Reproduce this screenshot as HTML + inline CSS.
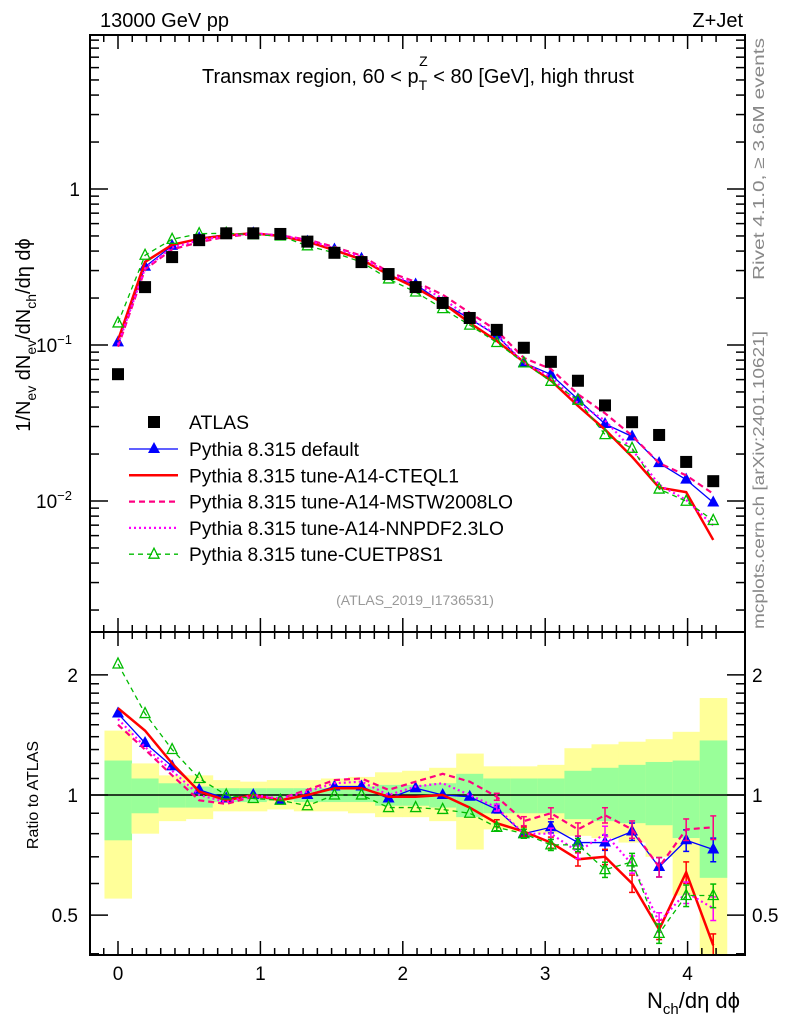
<!DOCTYPE html>
<html><head><meta charset="utf-8"><style>
body{margin:0;background:#fff;}
svg{display:block;font-family:"Liberation Sans",sans-serif;}
</style></head><body>
<svg id="c" width="786" height="1024" viewBox="0 0 786 1024" xmlns="http://www.w3.org/2000/svg"></svg>
<script>
const xs=[0,0.19,0.38,0.57,0.76,0.95,1.14,1.33,1.52,1.71,1.9,2.09,2.28,2.47,2.66,2.85,3.04,3.23,3.42,3.61,3.8,3.99,4.18];
const atlas=[0.065,0.235,0.366,0.47,0.52,0.52,0.515,0.46,0.39,0.34,0.285,0.235,0.186,0.149,0.125,0.096,0.078,0.059,0.041,0.032,0.0265,0.0178,0.0134];
const rDefault=[1.6,1.35,1.18,1.03,0.98,1.0,0.97,1.0,1.05,1.05,0.98,1.04,1.0,0.99,0.92,0.8,0.83,0.76,0.76,0.81,0.66,0.77,0.73];
const rCTEQ=[1.65,1.45,1.2,1.02,0.97,1.0,0.97,1.0,1.04,1.04,0.99,0.99,1.0,0.93,0.85,0.81,0.76,0.69,0.7,0.6,0.46,0.64,0.42];
const rMSTW=[1.5,1.3,1.12,0.97,0.95,0.99,0.98,1.03,1.09,1.1,1.03,1.08,1.13,1.08,0.99,0.86,0.9,0.82,0.89,0.82,0.66,0.82,0.83];
const rNNPDF=[1.55,1.32,1.15,1.0,0.96,1.0,0.98,1.02,1.07,1.08,1.0,1.05,1.07,1.0,0.93,0.8,0.8,0.72,0.8,0.67,0.48,0.57,0.52];
const rCUET=[2.13,1.6,1.3,1.1,1.0,0.98,0.97,0.94,1.0,1.0,0.93,0.93,0.92,0.9,0.83,0.8,0.75,0.75,0.65,0.68,0.45,0.56,0.56];
const yelLo=[0.55,0.8,0.86,0.87,0.91,0.91,0.92,0.91,0.91,0.9,0.88,0.88,0.86,0.73,0.82,0.81,0.8,0.79,0.78,0.76,0.7,0.56,0.38];
const yelHi=[1.45,1.2,1.12,1.12,1.09,1.08,1.09,1.09,1.1,1.11,1.14,1.15,1.17,1.27,1.18,1.18,1.19,1.31,1.34,1.36,1.38,1.44,1.75];
const grnLo=[0.77,0.9,0.93,0.93,0.96,0.96,0.97,0.96,0.96,0.96,0.94,0.94,0.93,0.88,0.9,0.9,0.9,0.87,0.86,0.85,0.84,0.78,0.62];
const grnHi=[1.22,1.1,1.07,1.05,1.04,1.04,1.04,1.04,1.04,1.05,1.06,1.06,1.07,1.13,1.1,1.1,1.1,1.15,1.17,1.19,1.21,1.22,1.37];
const S='http://www.w3.org/2000/svg',svg=document.getElementById('c');
const X=v=>118+v*142.4;
const Y=v=>189-Math.log10(v)*156;
const R=v=>795-Math.log10(v)*399;
function el(t,a,p){const e=document.createElementNS(S,t);for(const k in a)e.setAttribute(k,a[k]);(p||svg).appendChild(e);return e;}
function txt(x,y,s,a,p){const e=el('text',Object.assign({x:x,y:y,'font-size':18,fill:'#000'},a||{}),p);e.textContent=s;return e;}
function tsp(parent,s,a){const t=el('tspan',a||{},parent);t.textContent=s;return t;}
const L=90,Rt=745,T1=35,B1=632,T2=632,B2=955;
const defs=el('defs',{});
const c1=el('clipPath',{id:'c1'},defs);el('rect',{x:L,y:T1,width:Rt-L,height:B1-T1},c1);
const c2=el('clipPath',{id:'c2'},defs);el('rect',{x:L,y:T2,width:Rt-L,height:B2-T2},c2);
const g1=el('g',{'clip-path':'url(#c1)'});
const g2=el('g',{'clip-path':'url(#c2)'});
xs.forEach((x,i)=>{
 const b=el('rect',{x:X(x-0.095),width:0.19*142.4+0.5,y:R(yelHi[i]),height:R(yelLo[i])-R(yelHi[i]),fill:'#ffff99'},g2);
 
 const g=el('rect',{x:X(x-0.095),width:0.19*142.4+0.5,y:R(grnHi[i]),height:R(grnLo[i])-R(grnHi[i]),fill:'#99ff99'},g2);
 
});
el('line',{x1:L,x2:Rt,y1:R(1),y2:R(1),stroke:'#000','stroke-width':1.5},g2);
const series=[
 {n:'default',r:rDefault,c:'#0000ff',w:1.3,d:'',m:'tri'},
 {n:'cteql1',r:rCTEQ,c:'#ff0000',w:2.5,d:'',m:''},
 {n:'mstw',r:rMSTW,c:'#ff0080',w:2.2,d:'6,4',m:''},
 {n:'nnpdf',r:rNNPDF,c:'#ff00ff',w:2.2,d:'2,3',m:''},
 {n:'cuetp8s1',r:rCUET,c:'#00bb00',w:1.3,d:'5,4',m:'otri'}];
function marker(g,m,x,y,c){
 if(m==='tri'){const p=el('polygon',{points:`${x},${y-7} ${x-6},${y+4} ${x+6},${y+4}`,fill:c},g);}
 if(m==='otri'){const p=el('polygon',{points:`${x},${y-6} ${x-5},${y+4} ${x+5},${y+4}`,fill:'none',stroke:c,'stroke-width':1.3},g);}
}
series.forEach(s=>{
 const top=xs.map((x,i)=>X(x)+','+Y(s.r[i]*atlas[i])).join(' ');
 const p1=el('polyline',{points:top,fill:'none',stroke:s.c,'stroke-width':s.w,'stroke-dasharray':s.d},g1);
 
 const bot=xs.map((x,i)=>X(x)+','+R(s.r[i])).join(' ');
 const p2=el('polyline',{points:bot,fill:'none',stroke:s.c,'stroke-width':s.w,'stroke-dasharray':s.d},g2);
 
 xs.forEach((x,i)=>{
  if(i>=14){const e=0.02+0.006*(i-14);const yh=R(s.r[i]*(1+e)),yl=R(s.r[i]*(1-e));
   el('line',{x1:X(x),x2:X(x),y1:yh,y2:yl,stroke:s.c,'stroke-width':1.5},g2);
   el('line',{x1:X(x)-3,x2:X(x)+3,y1:yh,y2:yh,stroke:s.c,'stroke-width':1.5},g2);
   el('line',{x1:X(x)-3,x2:X(x)+3,y1:yl,y2:yl,stroke:s.c,'stroke-width':1.5},g2);}
  marker(g1,s.m,X(x),Y(s.r[i]*atlas[i]),s.c);marker(g2,s.m,X(x),R(s.r[i]),s.c);
 });
});
atlas.forEach((v,i)=>{const r=el('rect',{x:X(xs[i])-6,y:Y(v)-6,width:12,height:12,fill:'#000'},g1);
 });
[[T1,B1],[T2,B2]].forEach(([t,b])=>el('rect',{x:L,y:t,width:Rt-L,height:b-t,fill:'none',stroke:'#000','stroke-width':2}));
for(let v=-0.1;v<=4.3;v+=0.1){const vv=Math.round(v*10)/10;const maj=Math.abs(vv-Math.round(vv))<1e-6;const len=maj?14:7;
 [[T1,B1],[T2,B2]].forEach(([t,b])=>{el('line',{x1:X(vv),x2:X(vv),y1:b,y2:b-len,stroke:'#000','stroke-width':1.5});el('line',{x1:X(vv),x2:X(vv),y1:t,y2:t+len,stroke:'#000','stroke-width':1.5});});}
const xt=['0','1','2','3','4'];
xt.forEach((s,i)=>txt(X(i),980,s,{'text-anchor':'middle','font-size':19}));
for(let d=-3;d<=1;d++)for(let k=1;k<=9;k++){const v=k*Math.pow(10,d);const y=Y(v);if(y<T1||y>B1)continue;const len=k===1?18:9;
 el('line',{x1:L,x2:L+len,y1:y,y2:y,stroke:'#000','stroke-width':1.5});el('line',{x1:Rt,x2:Rt-len,y1:y,y2:y,stroke:'#000','stroke-width':1.5});}
txt(80,196,'1',{'text-anchor':'end','font-size':19});
const t1=txt(36,352,'10',{'font-size':19});tsp(t1,'−1',{dy:-8,'font-size':13});
const t2=txt(36,508,'10',{'font-size':19});tsp(t2,'−2',{dy:-8,'font-size':13});
[0.4,0.5,0.6,0.7,0.8,0.9,1,2].forEach(v=>{const y=R(v);const len=(v===0.5||v===1||v===2)?18:9;
 el('line',{x1:L,x2:L+len,y1:y,y2:y,stroke:'#000','stroke-width':1.5});el('line',{x1:Rt,x2:Rt-len,y1:y,y2:y,stroke:'#000','stroke-width':1.5});});
for(let v=1.1;v<2;v+=0.1){const y=R(v);el('line',{x1:L,x2:L+9,y1:y,y2:y,stroke:'#000','stroke-width':1.5});el('line',{x1:Rt,x2:Rt-9,y1:y,y2:y,stroke:'#000','stroke-width':1.5});}
[['2',2],['1',1],['0.5',0.5]].forEach(([s,v])=>{txt(78,R(v)+7,s,{'text-anchor':'end','font-size':19});txt(752,R(v)+7,s,{'font-size':19});});
txt(100,27,'13000 GeV pp',{'font-size':20});
txt(743,27,'Z+Jet',{'text-anchor':'end','font-size':20});
const tt=txt(418,83,'Transmax region, 60 < p',{'text-anchor':'middle','font-size':20});
tsp(tt,'T',{dy:7,'font-size':14});
tsp(tt,'Z',{dx:-8,dy:-24,'font-size':14});
tsp(tt,' < 80 [GeV], high thrust',{dy:17});
const yt=el('text',{transform:'translate(30,335) rotate(-90)','text-anchor':'middle','font-size':20});

tsp(yt,'1/N');tsp(yt,'ev',{dy:6,'font-size':14});tsp(yt,' dN',{dy:-6});tsp(yt,'ev',{dy:6,'font-size':14});
tsp(yt,'/dN',{dy:-6});tsp(yt,'ch',{dy:6,'font-size':14});tsp(yt,'/dη dϕ',{dy:-6});
txt(0,0,'Ratio to ATLAS',{transform:'translate(38,795) rotate(-90)','text-anchor':'middle','font-size':16});
const xl=txt(740,1008,'N',{'text-anchor':'end','font-size':22});
tsp(xl,'ch',{dy:6,'font-size':15});tsp(xl,'/dη dϕ',{dy:-6});
txt(0,0,'Rivet 4.1.0, ≥ 3.6M events',{transform:'translate(764,159) rotate(-90)','text-anchor':'middle','font-size':16,fill:'#888',textLength:242,lengthAdjust:'spacingAndGlyphs'});
txt(0,0,'mcplots.cern.ch [arXiv:2401.10621]',{transform:'translate(764,480) rotate(-90)','text-anchor':'middle','font-size':16,fill:'#888',textLength:298,lengthAdjust:'spacingAndGlyphs'});
txt(415,605,'(ATLAS_2019_I1736531)',{'text-anchor':'middle','font-size':14,fill:'#999'});
const lg=el('g',{});
el('rect',{x:148,y:416,width:12,height:12,fill:'#000'},lg);txt(189,429,'ATLAS',{'font-size':19,textLength:60,lengthAdjust:'spacingAndGlyphs'},lg);
const lgl=[['Pythia 8.315 default',0],['Pythia 8.315 tune-A14-CTEQL1',1],['Pythia 8.315 tune-A14-MSTW2008LO',2],['Pythia 8.315 tune-A14-NNPDF2.3LO',3],['Pythia 8.315 tune-CUETP8S1',4]];
const lgLen=[170,270,324,315,254];
lgl.forEach(([s,i])=>{const y=449+i*26.3;const sr=series[i];
 const ln=el('line',{x1:129,x2:178,y1:y,y2:y,stroke:sr.c,'stroke-width':sr.w,'stroke-dasharray':sr.d});
 marker(svg,sr.m,154,y,sr.c);
 const t=txt(189,y+7,s,{'font-size':19,textLength:lgLen[i],lengthAdjust:'spacingAndGlyphs'});});
</script>
</body></html>
